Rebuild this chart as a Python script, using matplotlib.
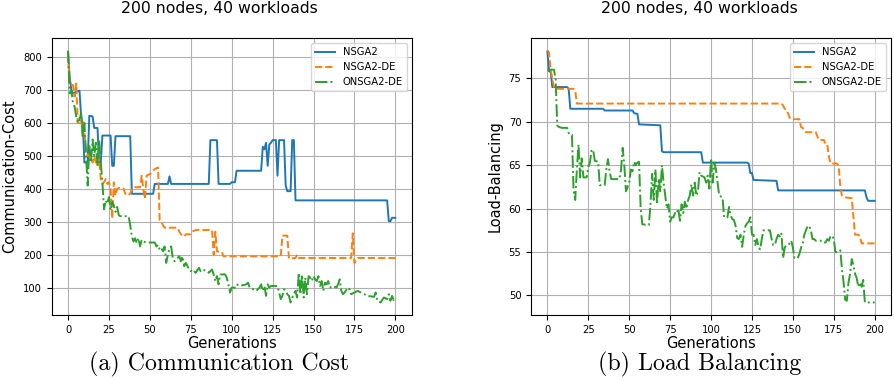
import matplotlib
matplotlib.use('Agg')
import matplotlib.pyplot as plt

# 通信コスト (a)
cc_nsga2_g = [0, 1, 2, 3, 5, 7, 8, 9, 10, 12,
              13, 15, 16, 18, 19, 20, 21, 26, 27, 28,
              29, 38, 39, 52, 53, 61, 62, 63, 86, 87,
              91, 92, 99, 100, 102, 103, 118, 119, 120, 121,
              122, 123, 124, 125, 127, 128, 129, 132, 133, 134,
              136, 137, 138, 139, 195, 196, 197, 198, 200]
cc_nsga2_v = [815, 740, 700, 690, 695, 698, 620, 600, 480, 480,
              622, 620, 585, 585, 480, 480, 562, 562, 470, 470,
              560, 560, 385, 385, 415, 415, 438, 415, 415, 548,
              548, 415, 415, 420, 420, 455, 455, 528, 520, 540,
              470, 535, 540, 548, 548, 440, 548, 548, 410, 393,
              393, 548, 548, 365, 365, 302, 302, 312, 312]

cc_de_g = [0, 1, 3, 4, 5, 6, 7, 8, 9, 10,
           11, 12, 13, 14, 15, 16, 17, 18, 19, 20,
           21, 22, 23, 24, 25, 26, 27, 28, 29, 30,
           32, 34, 35, 36, 38, 39, 40, 44, 45, 46,
           47, 48, 50, 52, 53, 55, 56, 57, 58, 59,
           67, 68, 69, 71, 72, 75, 76, 78, 88, 89,
           90, 91, 94, 95, 130, 131, 134, 135, 139, 140,
           141, 173, 174, 175, 176, 177, 200]
cc_de_v = [810, 720, 715, 680, 720, 600, 600, 610, 560, 570,
           520, 500, 505, 490, 480, 500, 480, 470, 490, 430,
           415, 420, 430, 415, 420, 400, 310, 420, 380, 400,
           405, 400, 385, 380, 385, 400, 405, 405, 440, 400,
           370, 440, 445, 455, 460, 465, 305, 300, 290, 282,
           282, 270, 262, 255, 262, 262, 270, 275, 275, 200,
           270, 210, 208, 195, 195, 258, 258, 188, 190, 200,
           190, 190, 265, 175, 185, 190, 190]

cc_ode_g = [0, 1, 2, 3, 4, 5, 6, 7, 8, 9,
            10, 11, 12, 13, 14, 15, 16, 17, 18, 19,
            20, 21, 22, 23, 24, 25, 26, 27, 28, 29,
            30, 31, 32, 37, 38, 39, 40, 41, 42, 43,
            44, 45, 46, 48, 53, 54, 55, 56, 57, 58,
            59, 60, 61, 62, 63, 64, 65, 66, 68, 69,
            70, 71, 72, 74, 75, 76, 78, 80, 81, 82,
            85, 86, 88, 89, 90, 91, 92, 93, 96, 97,
            98, 99, 100, 102, 103, 105, 109, 110, 111, 113,
            115, 117, 118, 119, 120, 121, 122, 123, 124, 128,
            129, 130, 131, 132, 133, 134, 135, 136, 137, 138,
            139, 140, 141, 142, 143, 144, 145, 146, 147, 148,
            149, 150, 151, 152, 153, 154, 155, 156, 157, 158,
            159, 160, 162, 164, 165, 166, 167, 168, 169, 171,
            172, 173, 175, 177, 179, 181, 183, 187, 188, 189,
            191, 193, 195, 196, 197, 198, 199, 200]
cc_ode_v = [820, 690, 700, 660, 650, 620, 600, 610, 630, 560,
            600, 500, 410, 530, 480, 550, 500, 540, 470, 550,
            480, 420, 338, 365, 355, 375, 335, 360, 350, 330,
            345, 320, 317, 317, 290, 255, 240, 250, 235, 250,
            225, 245, 240, 237, 237, 225, 230, 215, 220, 210,
            225, 175, 200, 220, 225, 190, 180, 185, 195, 180,
            195, 165, 175, 155, 150, 155, 145, 160, 150, 155,
            150, 145, 155, 140, 120, 135, 110, 140, 140, 130,
            110, 85, 100, 100, 110, 105, 110, 115, 100, 95,
            90, 100, 110, 90, 105, 75, 110, 100, 105, 105,
            85, 65, 75, 95, 90, 80, 75, 55, 70, 80,
            90, 70, 145, 80, 140, 70, 130, 80, 135, 130,
            120, 135, 125, 120, 135, 105, 120, 90, 115, 110,
            120, 100, 105, 100, 110, 125, 90, 80, 85, 100,
            95, 80, 85, 90, 85, 80, 75, 72, 85, 60,
            55, 70, 65, 80, 60, 75, 62, 70]

# 負荷分散 (b)
lb_nsga2_g = [0, 1, 2, 3, 12, 13, 14, 34, 35, 52,
              53, 55, 56, 69, 70, 71, 94, 95, 122, 123,
              124, 125, 126, 140, 141, 194, 195, 196, 200]
lb_nsga2_v = [78.1, 75.8, 75.8, 74.0, 74.0, 73.8, 71.5, 71.5, 71.3, 71.3,
              71.0, 70.9, 69.7, 69.6, 66.6, 66.5, 66.5, 65.3, 65.3, 65.2,
              64.1, 64.1, 63.3, 63.2, 62.1, 62.1, 61.3, 60.9, 60.9]

lb_de_g = [0, 1, 2, 3, 4, 5, 16, 17, 18, 143,
           144, 145, 146, 147, 148, 149, 154, 155, 156, 157,
           158, 164, 165, 166, 169, 170, 171, 172, 173, 177,
           178, 179, 180, 182, 186, 187, 188, 190, 191, 192,
           200]
lb_de_v = [78.2, 78.0, 76.0, 75.0, 74.0, 73.8, 73.8, 73.6, 72.1, 72.1,
           71.9, 71.5, 71.4, 71.0, 70.5, 70.3, 70.3, 69.4, 69.3, 69.0,
           68.8, 68.8, 68.3, 67.9, 67.9, 67.4, 67.4, 66.0, 65.2, 65.2,
           64.9, 62.5, 61.5, 61.3, 61.2, 59.0, 57.0, 57.0, 56.8, 56.0,
           56.0]

lb_ode_g = [0, 4, 5, 6, 7, 9, 12, 13, 14, 15,
            16, 17, 18, 19, 20, 21, 22, 24, 25, 26,
            27, 28, 29, 31, 32, 35, 36, 37, 38, 39,
            44, 45, 46, 47, 48, 49, 50, 51, 52, 53,
            54, 55, 56, 57, 58, 62, 63, 64, 65, 66,
            67, 68, 69, 70, 71, 72, 73, 74, 75, 76,
            77, 78, 79, 80, 81, 82, 83, 84, 85, 86,
            87, 88, 89, 90, 91, 92, 93, 94, 96, 97,
            98, 99, 100, 101, 102, 103, 104, 105, 107, 108,
            110, 111, 112, 113, 114, 115, 116, 117, 118, 119,
            120, 121, 122, 123, 124, 125, 126, 127, 128, 129,
            130, 131, 132, 136, 137, 138, 139, 140, 141, 142,
            143, 144, 145, 146, 147, 148, 149, 150, 151, 153,
            154, 155, 156, 157, 158, 159, 160, 161, 162, 163,
            164, 168, 169, 170, 171, 172, 173, 174, 175, 176,
            178, 179, 180, 181, 182, 183, 184, 185, 186, 187,
            188, 189, 190, 191, 192, 193, 194, 200]
lb_ode_v = [76.0, 76.0, 75.0, 69.6, 69.4, 69.3, 69.3, 68.7, 68.5, 68.5,
            62.0, 61.0, 64.5, 67.4, 63.6, 65.8, 63.6, 63.6, 64.8, 65.3,
            66.8, 66.7, 65.5, 65.4, 62.7, 62.7, 64.5, 65.7, 64.3, 63.4,
            63.4, 64.5, 67.0, 65.0, 62.0, 62.5, 63.0, 64.5, 64.3, 65.4,
            65.0, 65.3, 65.4, 60.0, 58.2, 58.1, 60.5, 64.0, 61.0, 64.5,
            60.5, 63.5, 62.0, 65.0, 63.0, 61.5, 60.0, 60.5, 58.5, 59.0,
            59.0, 59.5, 59.4, 60.0, 58.6, 60.5, 59.5, 60.8, 60.0, 61.0,
            61.5, 62.8, 61.5, 63.0, 61.5, 62.0, 64.2, 63.8, 63.6, 63.0,
            63.8, 62.3, 65.8, 63.0, 65.3, 64.5, 63.0, 61.5, 61.3, 59.0,
            59.0, 60.2, 59.2, 58.8, 58.7, 58.0, 56.6, 56.5, 57.0, 55.6,
            57.0, 58.0, 58.3, 58.5, 59.0, 57.0, 57.0, 55.8, 56.5, 55.6,
            55.3, 56.5, 57.5, 57.5, 56.5, 55.8, 55.8, 56.5, 57.0, 56.8,
            57.2, 54.3, 55.5, 55.8, 55.8, 56.0, 56.3, 55.5, 54.3, 54.3,
            54.8, 55.5, 56.0, 57.0, 57.5, 58.0, 58.0, 57.5, 56.5, 56.5,
            56.3, 56.3, 56.1, 56.1, 56.5, 56.3, 56.8, 56.9, 56.5, 55.0,
            55.0, 55.2, 53.0, 51.5, 49.5, 49.4, 51.5, 52.5, 54.2, 53.5,
            52.5, 52.0, 51.0, 51.5, 51.0, 51.8, 49.2, 49.2]

labels = ['NSGA2', 'NSGA2-DE', 'ONSGA2-DE']
styles = ['-', '--', '-.']
colors = ['tab:blue', 'tab:orange', 'tab:green']

fig = plt.figure(figsize=(8.94, 3.8), dpi=100)
ax1 = fig.add_axes([0.0578, 0.171, 0.4027, 0.729])
ax2 = fig.add_axes([0.594, 0.171, 0.4027, 0.729])

panels = [
    (ax1, [(cc_nsga2_g, cc_nsga2_v), (cc_de_g, cc_de_v), (cc_ode_g, cc_ode_v)],
     'Communication-Cost', '(a) Communication Cost', 0.2455),
    (ax2, [(lb_nsga2_g, lb_nsga2_v), (lb_de_g, lb_de_v), (lb_ode_g, lb_ode_v)],
     'Load-Balancing', '(b) Load Balancing', 0.7828),
]

for ax, series, ylab, cap, cx in panels:
    for (g, v), lab, ls, c in zip(series, labels, styles, colors):
        ax.plot(g, v, ls, color=c, label=lab, linewidth=1.4)
    ax.grid(True, color='#b0b0b0', linewidth=0.8)
    ax.set_xticks(range(0, 201, 25))
    ax.tick_params(labelsize=7.2)
    ax.set_xlabel('Generations', fontsize=10.5, labelpad=1)
    ax.set_ylabel(ylab, fontsize=10.5)
    ax.legend(loc='upper right', fontsize=7.2)
    fig.text(cx, 0.978, '200 nodes, 40 workloads', ha='center', va='center', fontsize=11.3)
    fig.text(cx, 0.025, cap, ha='center', va='baseline', fontsize=17.2, family='cmr10')

ax1.set_yticks(range(100, 801, 100))
ax2.set_yticks(range(50, 76, 5))

fig.savefig('out.png', dpi=100)
